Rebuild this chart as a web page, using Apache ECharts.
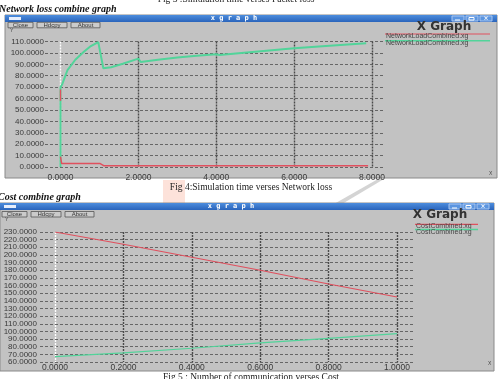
<!DOCTYPE html>
<html><head><meta charset="utf-8">
<script src="https://cdn.jsdelivr.net/npm/echarts@6/dist/echarts.min.js"></script>
<style>html,body{margin:0;padding:0;background:#fff}#c{width:502px;height:379px}</style>
</head><body><div id="c"></div>
<script>
// ---- data ----
const netTicks = [0, 2, 4, 6, 8];
const netGreen = [[0,0],[0,70],[0.05,73],[0.18,85],[0.38,94],[0.6,101],[0.78,106],[0.97,109.5],[1.1,86.5],[1.3,87.5],[1.6,90.5],[2.0,95],[2.06,92],[2.5,94],[3.0,96],[3.5,97.5],[4.0,98.8],[4.08,98.2],[5.0,101],[6.0,104],[7.0,106.5],[7.85,108.5]];
const netRed = [[0,68],[0,58],[0,null],[0,9],[0.03,3],[1.02,3],[1.12,1],[7.9,1]];
const costTicks = [0, 0.2, 0.4, 0.6, 0.8, 1.0];
const costYEven = [60, 80, 100, 120, 140, 160, 180, 200, 220];
const costYOdd = [70, 90, 110, 130, 150, 170, 190, 210, 230];
const costRed = [[0,230],[0.2,214],[0.4,197],[0.6,180],[0.8,162],[1.0,145]];
const costGreen = [[0,67],[0.2,72],[0.4,78],[0.6,85],[0.8,91],[1.0,97]];
const netLegend = ['NetworkLoadCombined.xg','NetworkLoadCombined.xg'];
const costLegend = ['CostCombined.xg','CostCombined.xg'];

const RED = '#e0505e', GREEN = '#52d49a';
const chart = echarts.init(document.getElementById('c'));

function txt(t, x, y, font, fill, align, z) {
  return {type:'text', z: z||1, style:{text:t, x:x, y:y, font:font, fill:fill||'#222', align:align||'left', verticalAlign:'middle'}};
}
function rect(x,y,w,h,fill,stroke,z,lw){
  return {type:'rect', z: z==null?1:z, shape:{x:x,y:y,width:w,height:h}, style:{fill:fill, stroke:stroke||null, lineWidth:lw||1}};
}
function line(x1,y1,x2,y2,c,w){
  return {type:'line', z:1, shape:{x1:x1,y1:y1,x2:x2,y2:y2}, style:{stroke:c, lineWidth:w||1}};
}
function windowEls(x,y,w,h,titleCx,btnX,btnY){
  const els = [];
  els.push(rect(x,y,w,h,'#c2c2c2','#8a8a8a',-10));
  els.push(rect(x,y,w,7,new echarts.graphic.LinearGradient(0,0,0,1,[{offset:0,color:'#4d8ddd'},{offset:1,color:'#2a64bb'}]),null,-9));
  els.push(rect(x+4,y+2,12,3,'#e6eefc',null,1));
  els.push(txt('x g r a p h', titleCx, y+3.6, 'bold 7px "DejaVu Sans Mono"', '#ffffff','center'));
  const rb = x+w-45;
  [0,14,28].forEach(function(d){ els.push(rect(rb+d,y+1,12,5,'#5b95e0','#a9c6f0',1)); });
  els.push(line(rb+3,y+5,rb+8,y+5,'#fff',1));
  els.push(rect(rb+17,y+2.5,5,2.5,null,'#fff',1));
  els.push(txt('×', rb+34, y+3.5, 'bold 6px "DejaVu Sans"', '#fff','center'));
  const btns = [['Close',25],['Hdcpy',30],['About',29]];
  let bx = btnX;
  btns.forEach(function(b){
    els.push(rect(bx,btnY,b[1],5.5,'#cbcbcb','#555',1,0.8));
    els.push(txt(b[0], bx+b[1]/2, btnY+2.9, '6px "Liberation Sans"', '#333','center'));
    bx += b[1]+4;
  });
  return els;
}

const graphics = [].concat(
  [rect(163,180,22,23,'#fde2da',null,-12)],
  [{type:'polygon', z:-12, shape:{points:[[378,179],[384,179],[342,204],[334,204]]}, style:{fill:'#d4d4d4'}}],
  windowEls(5,15,492,163,234,8,22.3),
  windowEls(0,203,494,168,231,2,211.5),
  [
    txt('Y', 10, 31, '5px "Liberation Sans"', '#444'),
    txt('Y', 5, 219.5, '5px "Liberation Sans"', '#444'),
    txt('X', 489, 174, '5px "Liberation Sans"', '#444'),
    txt('X', 488, 364, '5px "Liberation Sans"', '#444'),
    txt('Fig 3 :Simulation time verses Packet loss', 236, -1, '9.5px "Liberation Serif"', '#222', 'center'),
    txt('Network loss combine graph', -1, 9.5, 'bold italic 10px "Liberation Serif"', '#111'),
    txt('Fig 4:Simulation time verses Network loss', 251, 187, '9.5px "Liberation Serif"', '#222', 'center'),
    txt('Cost combine graph', -2, 197.5, 'bold italic 10px "Liberation Serif"', '#111'),
    txt('Fig 5 : Number of communication verses Cost', 251, 377, '9.5px "Liberation Serif"', '#222', 'center'),
    txt('X Graph', 444, 27, 'bold 12px "DejaVu Sans"', '#333', 'center'),
    line(385,34,490,34,RED,1.2),
    txt(netLegend[0], 386, 36, '7px "Liberation Sans"', '#444'),
    line(385,40.8,490,40.8,GREEN,1.5),
    txt(netLegend[1], 386, 43.3, '7px "Liberation Sans"', '#444'),
    txt('X Graph', 440, 215, 'bold 12px "DejaVu Sans"', '#333', 'center'),
    line(415,224.3,478,224.3,RED,1.2),
    txt(costLegend[0], 416, 226.3, '7px "Liberation Sans"', '#444'),
    line(415,229.5,478,229.5,GREEN,1.5),
    txt(costLegend[1], 416, 232, '7px "Liberation Sans"', '#444')
  ]
);

const fmt = function(v){return Number(v).toFixed(4);};
const xLab = {color:'#3a3a3a', fontFamily:'Liberation Sans', fontSize:8.5, showMinLabel:true, showMaxLabel:true, formatter:fmt};
const yLab = {color:'#3a3a3a', fontFamily:'Liberation Sans', fontSize:8, showMinLabel:true, showMaxLabel:true, hideOverlap:false, formatter:fmt};

chart.setOption({
  backgroundColor:'#ffffff',
  animation:false,
  grid:[
    {left:45, right:119, top:41.5, bottom:212, show:false},
    {left:40, right:87, top:232, bottom:17, show:false}
  ],
  xAxis:[
    {type:'value', gridIndex:0, min:-0.398, max:8.282,
     axisLine:{show:false}, axisTick:{show:false, customValues:netTicks},
     axisLabel:Object.assign({customValues:netTicks, margin:6}, xLab),
     splitLine:{show:true, lineStyle:{color:['#ffffff','#4a4a4a','#4a4a4a','#4a4a4a','#4a4a4a'], width:1.4, type:[2,1]}}},
    {type:'value', gridIndex:1, min:-0.0439, max:1.0526,
     axisLine:{show:false}, axisTick:{show:false, customValues:costTicks},
     axisLabel:Object.assign({customValues:costTicks, margin:1}, xLab),
     splitLine:{show:true, lineStyle:{color:['#ffffff','#4a4a4a','#4a4a4a','#4a4a4a','#4a4a4a','#4a4a4a'], width:1.4, type:[2,1]}}}
  ],
  yAxis:[
    {type:'value', gridIndex:0, min:0, max:110, interval:10,
     axisLine:{show:false}, axisTick:{show:false},
     axisLabel:Object.assign({margin:1}, yLab),
     splitLine:{lineStyle:{color:'#666', width:1, type:[3,2]}}},
    {type:'value', gridIndex:1, position:'left', offset:0, min:60, max:230, interval:10,
     axisLine:{show:false}, axisTick:{show:false},
     axisLabel:Object.assign({margin:3, customValues:costYEven}, yLab),
     splitLine:{lineStyle:{color:'#666', width:1, type:[3,2]}}},
    {type:'value', gridIndex:1, position:'left', offset:0, min:60, max:230, interval:10,
     axisLine:{show:false}, axisTick:{show:false},
     axisLabel:Object.assign({margin:3, customValues:costYOdd}, yLab),
     splitLine:{show:false}}
  ],
  series:[
    {name:netLegend[1], type:'line', xAxisIndex:0, yAxisIndex:0, data:netGreen, showSymbol:false, symbol:'none', lineStyle:{color:GREEN, width:2}, z:3},
    {name:netLegend[0], type:'line', xAxisIndex:0, yAxisIndex:0, data:netRed, showSymbol:false, symbol:'none', connectNulls:false, lineStyle:{color:RED, width:1.5}, z:4},
    {name:costLegend[0], type:'line', xAxisIndex:1, yAxisIndex:1, data:costRed, showSymbol:false, symbol:'none', lineStyle:{color:RED, width:1.2}, z:3},
    {name:costLegend[1], type:'line', xAxisIndex:1, yAxisIndex:1, data:costGreen, showSymbol:false, symbol:'none', lineStyle:{color:GREEN, width:1.2}, z:3}
  ],
  graphic:{elements:graphics}
});
</script></body></html>
